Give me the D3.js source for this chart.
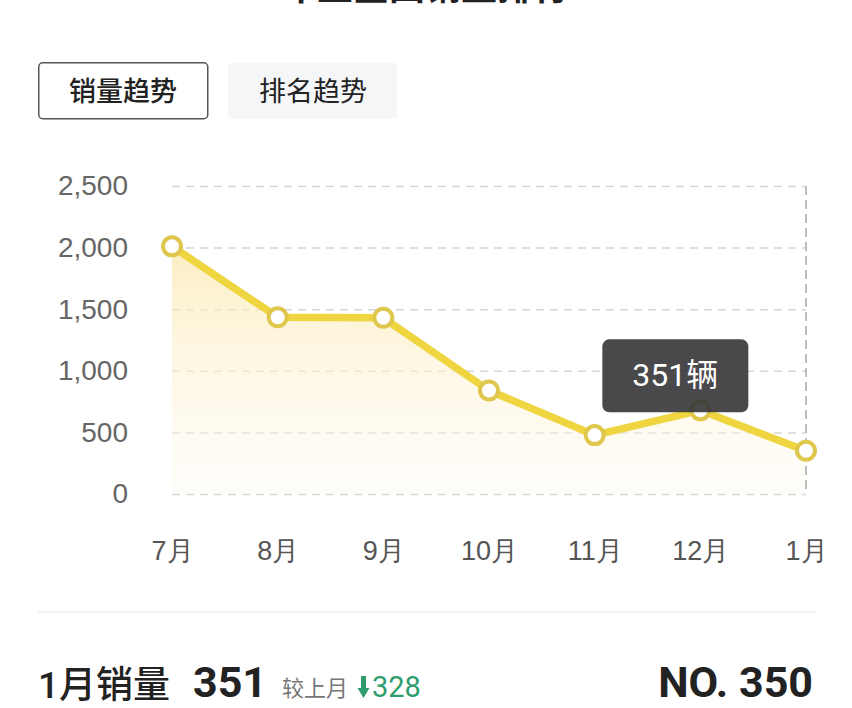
<!DOCTYPE html>
<html>
<head>
<meta charset="utf-8">
<script src="https://cdn.jsdelivr.net/npm/d3@7"></script>
<style>
  html, body { margin: 0; padding: 0; background: #fff; }
  svg { display: block; font-family: Roboto, 'Noto Sans CJK SC', sans-serif; }
</style>
</head>
<body>
<svg id="chart" width="852" height="708"></svg>
<script>
// data
const months = ['7月', '8月', '9月', '10月', '11月', '12月', '1月'];
const sales = [2010, 1435, 1430, 840, 478, 679, 351];
const yTicks = [0, 500, 1000, 1500, 2000, 2500];
const tabs = ['销量趋势', '排名趋势'];
const tipMonth = '12月';
const tipText = '351辆';

function renderSalesChart() {
  const svg = d3.select('#chart');

  // plot area
  const left = 172;
  const right = 806;
  const top = 186;
  const bottom = 494;

  const x = d3.scalePoint().domain(months).range([left, right]);
  const y = d3.scaleLinear().domain([0, 2500]).range([bottom, top]);

  // cut-off page title at the very top
  svg.append('text')
    .attr('x', 425)
    .attr('y', 0)
    .attr('text-anchor', 'middle')
    .attr('font-size', 36)
    .attr('font-weight', 700)
    .attr('fill', '#222')
    .text('车型全国销量排行');

  // tabs
  const tab = svg.selectAll('g.tab')
    .data(tabs)
    .join('g')
    .attr('class', 'tab')
    .attr('transform', (d, i) => `translate(${38 + i * 190},62)`);

  tab.append('rect')
    .attr('x', (d, i) => (i === 0 ? 0.75 : 0))
    .attr('y', 0.75)
    .attr('width', 169)
    .attr('height', 56)
    .attr('rx', 4)
    .attr('fill', (d, i) => (i === 0 ? '#fff' : '#f5f6f8'))
    .attr('stroke', (d, i) => (i === 0 ? '#555' : 'none'))
    .attr('stroke-width', 1.5);

  tab.append('text')
    .attr('x', 85)
    .attr('y', 39)
    .attr('text-anchor', 'middle')
    .attr('font-family', "'Noto Sans CJK SC'")
    .attr('font-size', 27)
    .attr('font-weight', (d, i) => (i === 0 ? 500 : 400))
    .attr('fill', '#222')
    .text(d => d);

  // gradient for the area
  const grad = svg.append('defs')
    .append('linearGradient')
    .attr('id', 'areaFill')
    .attr('gradientUnits', 'userSpaceOnUse')
    .attr('x1', 0).attr('x2', 0)
    .attr('y1', y(d3.max(sales)))
    .attr('y2', y(0));
  grad.append('stop').attr('offset', 0).attr('stop-color', '#fbe9b0').attr('stop-opacity', 0.75);
  grad.append('stop').attr('offset', 1).attr('stop-color', '#fffaf0').attr('stop-opacity', 0.35);

  // y axis with dashed grid
  const yAxis = svg.append('g')
    .attr('transform', `translate(${left},0)`)
    .call(d3.axisLeft(y)
      .tickValues(yTicks)
      .tickSize(-(right - left))
      .tickPadding(44)
      .tickFormat(d3.format(',')));
  yAxis.select('.domain').remove();
  yAxis.selectAll('line')
    .attr('stroke', '#d6d6d6')
    .attr('stroke-width', 1.5)
    .attr('stroke-dasharray', '8,6');
  yAxis.selectAll('text')
    .attr('font-size', 28)
    .attr('fill', '#666');

  // x axis labels
  const xAxis = svg.append('g')
    .attr('transform', `translate(0,${bottom})`)
    .call(d3.axisBottom(x).tickSize(0).tickPadding(47));
  xAxis.select('.domain').remove();
  xAxis.selectAll('text')
    .attr('font-size', 27)
    .attr('fill', '#555');

  // area under the line
  svg.append('path')
    .datum(sales)
    .attr('fill', 'url(#areaFill)')
    .attr('d', d3.area()
      .x((d, i) => x(months[i]))
      .y0(y(0))
      .y1(d => y(d)));

  // crosshair on the last month
  svg.append('line')
    .attr('x1', x(months[months.length - 1]))
    .attr('x2', x(months[months.length - 1]))
    .attr('y1', top)
    .attr('y2', bottom)
    .attr('stroke', '#bdbdbd')
    .attr('stroke-width', 2)
    .attr('stroke-dasharray', '9,5');

  // the line
  svg.append('path')
    .datum(sales)
    .attr('fill', 'none')
    .attr('stroke', '#efd53f')
    .attr('stroke-width', 7.5)
    .attr('stroke-linejoin', 'round')
    .attr('d', d3.line()
      .x((d, i) => x(months[i]))
      .y(d => y(d)));

  // points
  svg.selectAll('circle.pt')
    .data(sales)
    .join('circle')
    .attr('class', 'pt')
    .attr('cx', (d, i) => x(months[i]))
    .attr('cy', d => y(d))
    .attr('r', 9)
    .attr('fill', '#fff')
    .attr('stroke', '#dfc64c')
    .attr('stroke-width', 4);

  // tooltip
  const tipX = x(tipMonth) - 98;
  const tipY = y(sales[months.indexOf(tipMonth)]) - 71;
  const tip = svg.append('g').attr('transform', `translate(${tipX},${tipY})`);
  tip.append('rect')
    .attr('width', 146)
    .attr('height', 73)
    .attr('rx', 7)
    .attr('fill', '#353538')
    .attr('fill-opacity', 0.9);
  tip.append('text')
    .attr('x', 73)
    .attr('y', 47)
    .attr('text-anchor', 'middle')
    .attr('font-size', 32)
    .attr('fill', '#fff')
    .text(tipText);

  // separator
  svg.append('line')
    .attr('x1', 38).attr('x2', 815)
    .attr('y1', 612).attr('y2', 612)
    .attr('stroke', '#eeeeee')
    .attr('stroke-width', 1.5);

  // summary row
  const last = sales[sales.length - 1];
  const diff = sales[sales.length - 2] - last;

  svg.append('text')
    .attr('x', 38)
    .attr('y', 698)
    .attr('font-size', 37)
    .attr('font-weight', 500)
    .attr('fill', '#222')
    .text(months[months.length - 1] + '销量');

  svg.append('text')
    .attr('x', 193)
    .attr('y', 697)
    .attr('font-size', 43)
    .attr('font-weight', 700)
    .attr('fill', '#222')
    .text(last);

  svg.append('text')
    .attr('x', 282)
    .attr('y', 696)
    .attr('font-family', "'Noto Sans CJK SC'")
    .attr('font-size', 22)
    .attr('fill', '#777')
    .text('较上月');

  // down arrow
  svg.append('path')
    .attr('fill', '#2e9c6c')
    .attr('d', 'M361 676 h5 v12 h3.5 l-6 10 l-6 -10 h3.5 Z');

  svg.append('text')
    .attr('x', 372)
    .attr('y', 697)
    .attr('font-size', 29)
    .attr('fill', '#2e9c6c')
    .text(diff);

  svg.append('text')
    .attr('x', 813)
    .attr('y', 697)
    .attr('text-anchor', 'end')
    .attr('font-size', 43)
    .attr('font-weight', 700)
    .attr('fill', '#222')
    .text('NO. 350');
}

document.addEventListener('DOMContentLoaded', renderSalesChart);
</script>
</body>
</html>
